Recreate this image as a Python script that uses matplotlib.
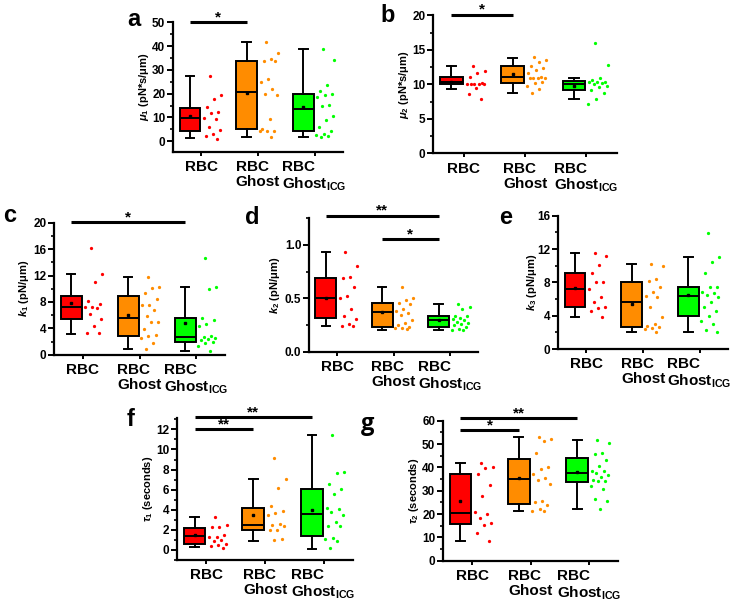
import numpy as np
import matplotlib
matplotlib.use('Agg')
import matplotlib.pyplot as plt
from matplotlib.ticker import AutoMinorLocator

plt.rcParams['font.family'] = ['Liberation Sans', 'DejaVu Sans']
plt.rcParams['font.weight'] = 'bold'
plt.rcParams['mathtext.fontset'] = 'custom'
plt.rcParams['mathtext.rm'] = 'Liberation Sans:bold'
plt.rcParams['mathtext.bf'] = 'Liberation Sans:bold'
plt.rcParams['mathtext.it'] = 'Liberation Sans:italic:bold'

# groups and colours
groups = ['RBC', 'RBC\nGhost', 'RBC\nGhost$_{\\mathbf{ICG}}$']
colors = ['#ff0000', '#ff8c00', '#00ff00']

# box stats: [whisker low, q1, median, q3, whisker high, mean]
a_box = [[1.3, 4.5, 9.7, 14.1, 27.4, 10.5], [2.0, 5.1, 20.9, 33.6, 41.9, 20.1], [1.7, 4.5, 13.6, 19.9, 38.7, 14.4]]
a_rbc = [27.4, 19.6, 17.8, 14.3, 12.3, 11.7, 9.7, 9.2, 5.9, 4.7, 3.1, 2.3, 1.1]
a_ghost = [41.9, 36.9, 34.7, 33.8, 33.8, 26.0, 25.0, 21.8, 19.9, 19.5, 9.3, 5.1, 4.5, 4.5, 4.4, 2.0]
a_icg = [38.6, 34.2, 23.6, 21.0, 19.9, 19.5, 18.8, 15.1, 15.0, 10.5, 8.8, 5.9, 4.5, 3.1, 2.5, 2.3, 1.7]

b_box = [[9.3, 10.05, 10.3, 11.1, 12.6, 10.4], [8.8, 10.2, 11.1, 12.6, 13.8, 11.5], [7.8, 9.2, 10.1, 10.5, 10.9, 9.8]]
b_rbc = [12.6, 11.9, 11.6, 11.1, 10.2, 10.1, 10.1, 10.1, 10.1, 10.1, 9.4, 8.6, 7.9]
b_ghost = [13.9, 13.5, 13.2, 12.6, 12.3, 12.0, 11.6, 11.1, 10.9, 10.9, 10.9, 10.9, 10.3, 10.2, 9.7, 9.3, 8.8]
b_icg = [16.0, 12.8, 10.9, 10.6, 10.4, 10.4, 10.3, 10.2, 10.1, 9.8, 9.6, 9.2, 8.8, 7.8, 7.1]

c_box = [[3.2, 5.35, 7.2, 8.9, 12.3, 7.8], [0.9, 2.85, 5.5, 8.85, 11.7, 6.0], [0.6, 2.0, 2.7, 5.6, 10.3, 4.85]]
c_rbc = [16.2, 12.3, 11.0, 8.2, 7.7, 7.2, 7.2, 7.1, 6.2, 5.4, 4.3, 3.3, 3.3]
c_ghost = [11.7, 10.2, 10.1, 9.3, 8.5, 7.6, 7.6, 6.8, 5.8, 5.0, 5.0, 3.9, 3.0, 2.8, 2.5, 1.8, 0.9]
c_icg = [14.7, 10.3, 10.0, 5.6, 5.3, 4.7, 4.4, 2.8, 2.7, 2.5, 2.4, 2.2, 2.0, 1.8, 1.3, 0.6]

d_box = [[0.24, 0.32, 0.50, 0.69, 0.93, 0.50], [0.20, 0.23, 0.37, 0.46, 0.61, 0.37], [0.20, 0.23, 0.30, 0.33, 0.45, 0.30]]
d_rbc = [0.93, 0.80, 0.70, 0.69, 0.61, 0.52, 0.50, 0.40, 0.33, 0.31, 0.26, 0.24, 0.24]
d_ghost = [0.61, 0.50, 0.48, 0.46, 0.45, 0.40, 0.38, 0.36, 0.34, 0.30, 0.27, 0.25, 0.23, 0.22, 0.22, 0.21]
d_icg = [0.45, 0.42, 0.40, 0.33, 0.33, 0.32, 0.31, 0.30, 0.28, 0.27, 0.26, 0.25, 0.23, 0.21, 0.20, 0.20]

e_box = [[3.9, 5.0, 7.2, 9.1, 11.5, 7.3], [2.0, 2.7, 5.6, 8.0, 10.2, 5.4], [2.1, 4.0, 6.4, 7.4, 11.0, 6.5]]
e_rbc = [11.5, 11.2, 10.1, 9.1, 8.0, 8.0, 7.2, 6.2, 5.6, 5.0, 4.9, 4.6, 3.9]
e_ghost = [10.2, 10.0, 8.4, 8.2, 7.4, 6.9, 6.4, 6.2, 5.0, 3.9, 3.0, 2.8, 2.6, 2.5, 2.4, 2.1]
e_icg = [13.9, 11.0, 10.5, 9.1, 7.4, 7.4, 6.8, 6.7, 6.5, 6.2, 5.7, 5.0, 4.6, 4.0, 3.4, 3.0, 2.3, 2.1]

f_box = [[0.30, 0.56, 1.39, 2.19, 3.28, 1.46], [0.93, 1.95, 2.5, 4.17, 7.1, 3.45], [0.13, 1.36, 3.58, 6.03, 11.45, 4.0]]
f_rbc = [3.3, 2.5, 2.3, 2.3, 1.5, 1.3, 1.3, 1.0, 0.9, 0.6, 0.46, 0.4, 0.23]
f_ghost = [9.1, 7.1, 6.2, 4.4, 3.9, 3.7, 3.5, 2.6, 2.5, 2.4, 2.0, 2.0, 1.1, 0.95]
f_icg = [11.45, 7.8, 7.7, 6.6, 6.1, 5.6, 4.2, 4.1, 3.8, 3.5, 2.8, 2.4, 2.4, 1.2, 1.1, 0.9, 0.2]

g_box = [[8.6, 15.7, 20.6, 37.0, 42.0, 25.4], [21.1, 24.4, 34.9, 43.6, 52.9, 35.3], [22.0, 33.9, 37.4, 43.9, 51.7, 37.9]]
g_rbc = [42.0, 40.0, 39.6, 37.3, 32.5, 27.9, 21.0, 20.0, 18.5, 16.0, 15.4, 12.0, 8.6]
g_ghost = [52.9, 52.3, 51.3, 46.3, 40.0, 39.3, 37.0, 35.3, 34.7, 33.0, 25.4, 25.0, 24.0, 22.3, 21.4, 21.1]
g_icg = [51.7, 50.3, 46.0, 45.6, 43.3, 40.7, 38.4, 38.4, 37.7, 36.6, 35.9, 34.6, 34.0, 34.0, 32.0, 30.9, 26.3, 25.7, 22.0]

# significance: (group i, group j, bar height, stars)
a_sig = [(0, 1, 50, '*')]
b_sig = [(0, 1, 20.1, '*')]
c_sig = [(0, 2, 20.1, '*')]
d_sig = [(0, 2, 1.275, '**'), (1, 2, 1.056, '*')]
f_sig = [(0, 2, 13.2, '**'), (0, 1, 12.0, '**')]
g_sig = [(0, 2, 61, '**'), (0, 1, 56, '*')]

W, H = 752, 603
fig = plt.figure(figsize=(W / 100, H / 100), dpi=100)
pos = np.arange(1, 4)


def spread(n):
    # deterministic side-by-side spread of the points next to each box
    k = np.arange(n)
    return 0.03 + 0.33 * ((k * 0.618 + 0.35) % 1.0)


def panel(rect, box, pts, ylim, yticks, ylabel, ylab_x, letter, letter_xy, sigs,
          letter_font='Liberation Sans'):
    l, t, r, b = rect
    ax = fig.add_axes([l / W, 1 - b / H, (r - l) / W, (b - t) / H])
    stats = [dict(whislo=s[0], q1=s[1], med=s[2], q3=s[3], whishi=s[4], mean=s[5]) for s in box]
    bp = ax.bxp(stats, positions=pos - 0.2, widths=0.37, capwidths=0.15,
                patch_artist=True, showmeans=True, showfliers=False, manage_ticks=False,
                boxprops=dict(linewidth=1.4, edgecolor='black'),
                whiskerprops=dict(linewidth=1.4), capprops=dict(linewidth=1.4),
                medianprops=dict(color='black', linewidth=1.4),
                meanprops=dict(marker='s', markersize=2.0, markerfacecolor='black',
                               markeredgecolor='black'))
    for patch, c in zip(bp['boxes'], colors):
        patch.set_facecolor(c)
    for i, (vals, c) in enumerate(zip(pts, colors)):
        v = np.array(vals)
        ax.scatter(pos[i] + spread(len(v)), v, s=5.5, color=c, linewidths=0, zorder=3)

    ax.set_xlim(0.5, 3.5)
    ax.set_ylim(*ylim)
    ax.set_yticks(yticks)
    ax.yaxis.set_minor_locator(AutoMinorLocator(2))
    ax.set_xticks(pos)
    ax.set_xticklabels(groups, fontsize=11, fontweight='bold', multialignment='left',
                       linespacing=1.1)
    ax.tick_params(axis='y', which='major', length=4, width=1.4, labelsize=8.5, pad=1.5)
    ax.tick_params(axis='y', which='minor', length=2.5, width=1.2)
    ax.tick_params(axis='x', length=3, width=1.4, pad=3)
    for s in ['top', 'right']:
        ax.spines[s].set_visible(False)
    for s in ['left', 'bottom']:
        ax.spines[s].set_linewidth(1.6)

    for i, j, y, txt in sigs:
        ax.plot([pos[i] - 0.2, pos[j] - 0.2], [y, y], color='black', lw=2.2,
                clip_on=False, solid_capstyle='butt')
        ax.annotate(txt, xy=((pos[i] + pos[j]) / 2 - 0.2, y), xytext=(0, -1.5),
                    textcoords='offset points', ha='center', va='bottom',
                    fontsize=11, fontweight='bold', annotation_clip=False)

    fig.text(ylab_x / W, 1 - (t + b) / 2 / H, ylabel, rotation=90, ha='center', va='center',
             fontsize=8, fontweight='bold')
    fig.text(letter_xy[0] / W, 1 - letter_xy[1] / H, letter, ha='center', va='center',
             fontsize=17, fontweight='bold', family=letter_font)
    return ax


panel((173, 22.3, 343, 152), a_box, [a_rbc, a_ghost, a_icg], (-4.5, 50), [0, 10, 20, 30, 40, 50],
      r'$\mu_1$ (pN*s/μm)', 144, 'a', (134, 19), a_sig)
panel((433, 15.3, 617, 153.3), b_box, [b_rbc, b_ghost, b_icg], (0, 20), [0, 5, 10, 15, 20],
      r'$\mu_2$ (pN*s/μm)', 404, 'b', (388, 16), b_sig)
panel((54, 222.7, 225, 354.7), c_box, [c_rbc, c_ghost, c_icg], (0, 20), [0, 4, 8, 12, 16, 20],
      r'$k_1$ (pN/μm)', 24, 'c', (10, 216), c_sig)
panel((309, 218.3, 478, 351.7), d_box, [d_rbc, d_ghost, d_icg], (0, 1.25), [0.0, 0.5, 1.0],
      r'$k_2$ (pN/μm)', 275, 'd', (252, 218), d_sig)
panel((558, 215.7, 728, 349), e_box, [e_rbc, e_ghost, e_icg], (0, 16), [0, 4, 8, 12, 16],
      r'$k_3$ (pN/μm)', 532, 'e', (506, 218), [])
panel((177, 418.3, 353, 560), f_box, [f_rbc, f_ghost, f_icg], (-1, 13.1), [0, 2, 4, 6, 8, 10, 12],
      r'$\tau_1$ (seconds)', 148, 'f', (131, 420), f_sig)
panel((443, 420.7, 618, 560.7), g_box, [g_rbc, g_ghost, g_icg], (0, 60), [0, 10, 20, 30, 40, 50, 60],
      r'$\tau_2$ (seconds)', 414, 'g', (368, 424), g_sig, letter_font='Open Sans')

fig.savefig('out.png', dpi=100)
